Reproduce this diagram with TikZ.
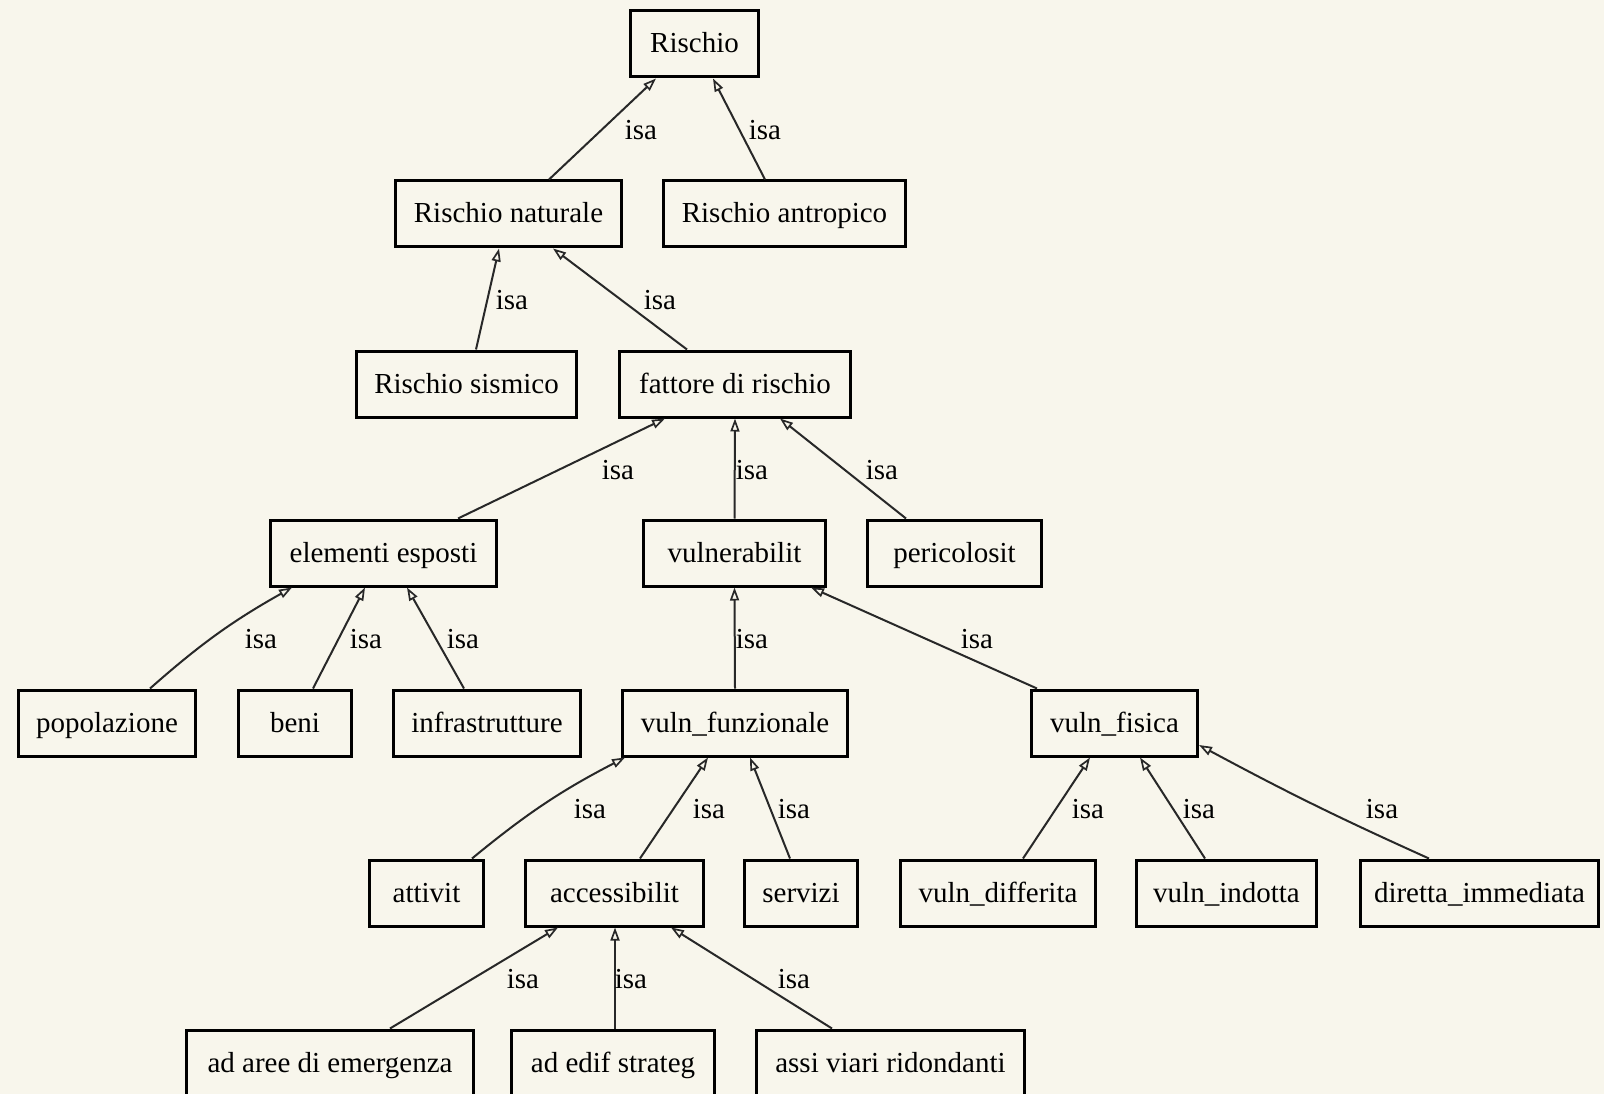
\documentclass[tikz,border=0pt]{standalone}
\usepackage{fontspec}
\setmainfont{Liberation Serif}
\usetikzlibrary{arrows.meta}
\definecolor{bg}{RGB}{248,246,236}
\definecolor{edgec}{RGB}{40,40,40}
\begin{document}
\begin{tikzpicture}[x=1pt,y=-1pt,
  box/.style={draw=black, line width=3pt, fill=bg, minimum height=66pt, inner sep=0pt,
    text height=22pt, text depth=4pt,
    font=\fontsize{29}{34}\selectfont},
  lbl/.style={inner sep=0pt, font=\fontsize{29}{34}\selectfont},
  isa/.style={draw=edgec, line width=2pt, -{Triangle[open,length=13pt,width=9pt,line width=1.7pt]}}]
\fill[bg] (0,0) rectangle (1604,1094);
\useasboundingbox (0,0) rectangle (1604,1094);
% nodes
\node[box, minimum width=128pt] (r)  at (694.5,44)  {Rischio};
\node[box, minimum width=226pt] (rn) at (508.5,214) {Rischio naturale};
\node[box, minimum width=242pt] (ra) at (784.5,214) {Rischio antropico};
\node[box, minimum width=220pt] (rs) at (466.5,384) {Rischio sismico};
\node[box, minimum width=231pt] (fr) at (735,384)   {fattore di rischio};
\node[box, minimum width=226pt] (ee) at (383.5,553) {elementi esposti};
\node[box, minimum width=182pt] (vu) at (734.5,553) {vulnerabilit};
\node[box, minimum width=174pt] (pe) at (954.5,553) {pericolosit};
\node[box, minimum width=177pt] (po) at (107,723)   {popolazione};
\node[box, minimum width=113pt] (be) at (295,723)   {beni};
\node[box, minimum width=187pt] (in) at (487,723)   {infrastrutture};
\node[box, minimum width=225pt] (vf) at (735,723)   {vuln\_funzionale};
\node[box, minimum width=166pt] (vs) at (1114.5,723) {vuln\_fisica};
\node[box, minimum width=114pt] (at) at (426.5,893) {attivit};
\node[box, minimum width=178pt] (ac) at (614.5,893) {accessibilit};
\node[box, minimum width=113pt] (se) at (801,893)   {servizi};
\node[box, minimum width=195pt] (vd) at (998,893)   {vuln\_differita};
\node[box, minimum width=180pt] (vi) at (1226.5,893) {vuln\_indotta};
\node[box, minimum width=238pt] (di) at (1479.5,893) {diretta\_immediata};
\node[box, minimum width=287pt] (aa) at (330,1063)  {ad aree di emergenza};
\node[box, minimum width=203pt] (ae) at (613,1063)  {ad edif strateg};
\node[box, minimum width=268pt] (av) at (890.5,1063) {assi viari ridondanti};
% edges
\draw[isa] ([xshift=40.5pt]rn.north) -- ([xshift=-38.5pt]r.south);
\draw[isa] ([xshift=-19.5pt]ra.north) -- ([xshift=18.5pt]r.south);
\draw[isa] ([xshift=9.5pt]rs.north) -- ([xshift=-9.5pt]rn.south);
\draw[isa] ([xshift=-48pt]fr.north) -- ([xshift=44.5pt]rn.south);
\draw[isa] ([xshift=74.5pt]ee.north) -- ([xshift=-70pt]fr.south);
\draw[isa] (vu.north) -- (fr.south);
\draw[isa] ([xshift=-48.5pt]pe.north) -- ([xshift=45pt]fr.south);
\draw[isa] ([xshift=43pt]po.north) to[bend left=6] ([xshift=-91.5pt]ee.south);
\draw[isa] ([xshift=18pt]be.north) -- ([xshift=-18.5pt]ee.south);
\draw[isa] ([xshift=-23pt]in.north) -- ([xshift=23.5pt]ee.south);
\draw[isa] (vf.north) -- (vu.south);
\draw[isa] ([xshift=-77.5pt]vs.north) -- ([xshift=76.5pt]vu.south);
\draw[isa] ([xshift=45.5pt]at.north) to[bend left=6] ([xshift=-110pt]vf.south);
\draw[isa] ([xshift=25.5pt]ac.north) -- ([xshift=-27pt]vf.south);
\draw[isa] ([xshift=-11pt]se.north) -- ([xshift=15pt]vf.south);
\draw[isa] ([xshift=25pt]vd.north) -- ([xshift=-24.5pt]vs.south);
\draw[isa] ([xshift=-21.5pt]vi.north) -- ([xshift=25.5pt]vs.south);
\draw[isa] ([xshift=-50.5pt]di.north) to[bend left=2] ([yshift=-22pt]vs.east);
\draw[isa] ([xshift=60pt]aa.north) -- ([xshift=-56.5pt]ac.south);
\draw[isa] ([xshift=2pt]ae.north) -- ([xshift=0.5pt]ac.south);
\draw[isa] ([xshift=-58.5pt]av.north) -- ([xshift=56.5pt]ac.south);
% labels
\node[lbl] (l1)  at (641,130) {isa};
\node[lbl] (l2)  at (765,130) {isa};
\node[lbl] (l3)  at (512,300) {isa};
\node[lbl] (l4)  at (660,300) {isa};
\node[lbl] (l5)  at (618,470) {isa};
\node[lbl] (l6)  at (752,470) {isa};
\node[lbl] (l7)  at (882,470) {isa};
\node[lbl] (l8)  at (261,639) {isa};
\node[lbl] (l9)  at (366,639) {isa};
\node[lbl] (l10) at (463,639) {isa};
\node[lbl] (l11) at (752,639) {isa};
\node[lbl] (l12) at (977,639) {isa};
\node[lbl] (l13) at (590,809) {isa};
\node[lbl] (l14) at (709,809) {isa};
\node[lbl] (l15) at (794,809) {isa};
\node[lbl] (l16) at (1088,809) {isa};
\node[lbl] (l17) at (1199,809) {isa};
\node[lbl] (l18) at (1382,809) {isa};
\node[lbl] (l19) at (523,979) {isa};
\node[lbl] (l20) at (631,979) {isa};
\node[lbl] (l21) at (794,979) {isa};
\end{tikzpicture}
\end{document}
